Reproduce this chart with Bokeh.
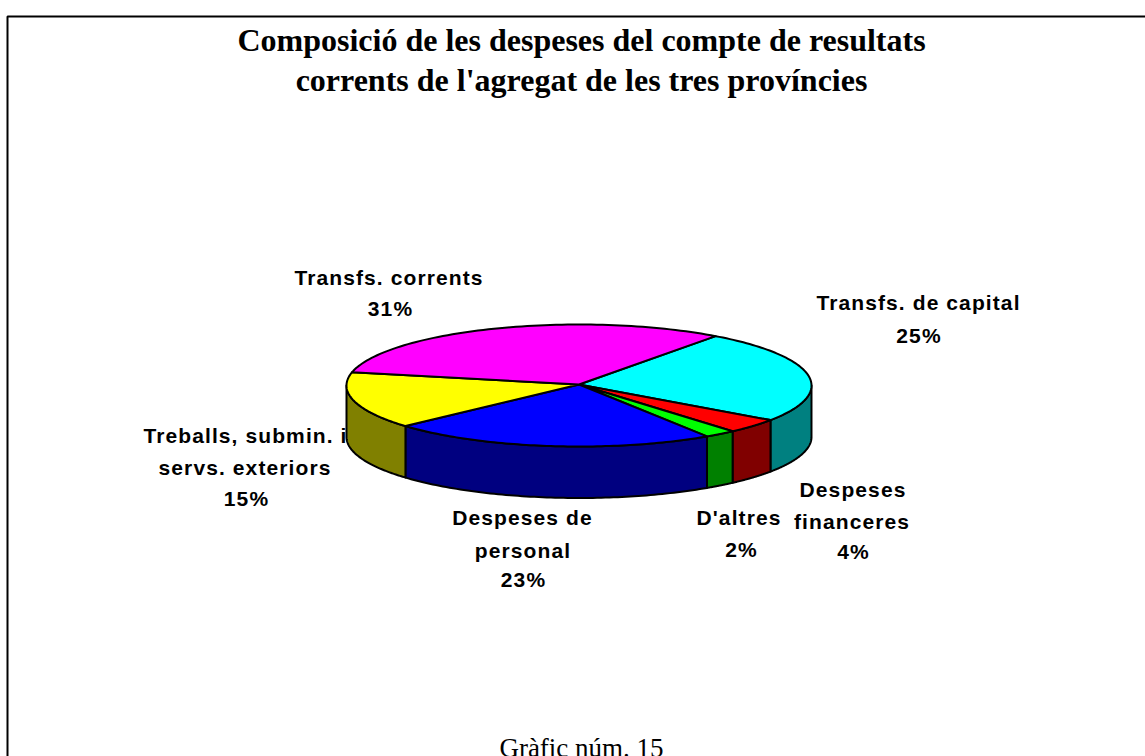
import numpy as np
from bokeh.plotting import figure
from bokeh.layouts import column
from bokeh.embed import file_html
from bokeh.resources import INLINE
from bokeh.core.properties import value

# Data
categories = ["Transfs. de capital", "Despeses financeres", "D'altres",
              "Despeses de personal", "Treballs, submin. i servs. exteriors", "Transfs. corrents"]
shares = [24.5, 3.9, 2.2, 22.6, 15.0, 31.4]
top_colors = ["#00FFFF", "#FF0000", "#00FF00", "#0000FF", "#FFFF00", "#FF00FF"]
wall_colors = ["#008080", "#800000", "#008000", "#000080", "#808000", "#800080"]
label_lines = [["Transfs. de capital", "25%"], ["Despeses", "financeres", "4%"], ["D'altres", "2%"],
               ["Despeses de", "personal", "23%"], ["Treballs, submin. i", "servs. exteriors", "15%"],
               ["Transfs. corrents", "31%"]]
title_lines = ["Composició de les despeses del compte de resultats",
               "corrents de l'agregat de les tres províncies"]
caption = "Gràfic núm. 15"

# Layout of the label lines (centre x, middle y), in picture pixels
label_x = [[918, 918.5], [852.5, 851.5, 853], [738.5, 741], [522, 522.5, 523], [245, 244.5, 246], [388.5, 390]]
label_y = [[302, 334.5], [489, 521, 551], [517, 549], [516.5, 549.5, 579], [435, 467, 498], [277, 308]]

W, H = 1145, 756
CX, CY, RX, RY, DEPTH = 578.5, 385.0, 232.5, 61.0, 51.5
START = 54.0
SPACING = 1.1

def base():
    f = figure(width=W, height=H, x_range=(0, W), y_range=(H, 0), output_backend="svg",
               toolbar_location=None, min_border=0, outline_line_color=None,
               background_fill_color=None, border_fill_color=None)
    f.xaxis.visible = False
    f.yaxis.visible = False
    f.grid.visible = False
    return f

p = base()
q = base()
q.styles = {"letter-spacing": f"{SPACING}px"}
q.margin = (-H, 0, 0, 0)

# Frame
p.line([7, 7, W + 10], [H + 10, 16, 16], line_color="black", line_width=2)

s = np.array(shares, dtype=float)
ang = np.concatenate([[0], np.cumsum(s / s.sum() * 360.0)])
bounds = START - ang  # clockwise

def rim(a0, a1, n=80):
    t = np.radians(np.linspace(a0, a1, n))
    return CX + RX * np.cos(t), CY - RY * np.sin(t)

for i in range(len(s)):
    a0, a1 = bounds[i], bounds[i + 1]
    hi, lo = min(a0, 0.0), max(a1, -180.0)
    if hi <= lo:
        continue
    x, y = rim(hi, lo)
    p.patch(np.r_[x, x[::-1]], np.r_[y, y[::-1] + DEPTH], fill_color=wall_colors[i],
            line_color="black", line_width=2, line_join="round")

for i in range(len(s)):
    x, y = rim(bounds[i], bounds[i + 1])
    p.patch(np.r_[CX, x], np.r_[CY - 1, y], fill_color=top_colors[i],
            line_color="black", line_width=2, line_join="round")

LBL = 21
for lines, xs, ys in zip(label_lines, label_x, label_y):
    for t, ax, ay in zip(lines, xs, ys):
        # the centring ignores the letter spacing, so it is taken off here
        q.text([ax - len(t) * SPACING / 2], [ay], text=[t], text_align="center", text_baseline="middle",
               text_font=value("Liberation Sans"), text_font_style="bold",
               text_font_size=f"{LBL}px", text_color="black")

for j, t in enumerate(title_lines):
    p.text([581], [39.2 + j * 40], text=[t], text_align="center", text_baseline="middle",
           text_font=value("Liberation Serif"), text_font_style="bold",
           text_font_size="32px", text_color="black")

p.text([581], [747.7], text=[caption], text_align="center", text_baseline="middle",
       text_font=value("Liberation Serif"), text_font_size="27px", text_color="black")

open("out.html", "w").write(file_html(column(p, q), INLINE))
